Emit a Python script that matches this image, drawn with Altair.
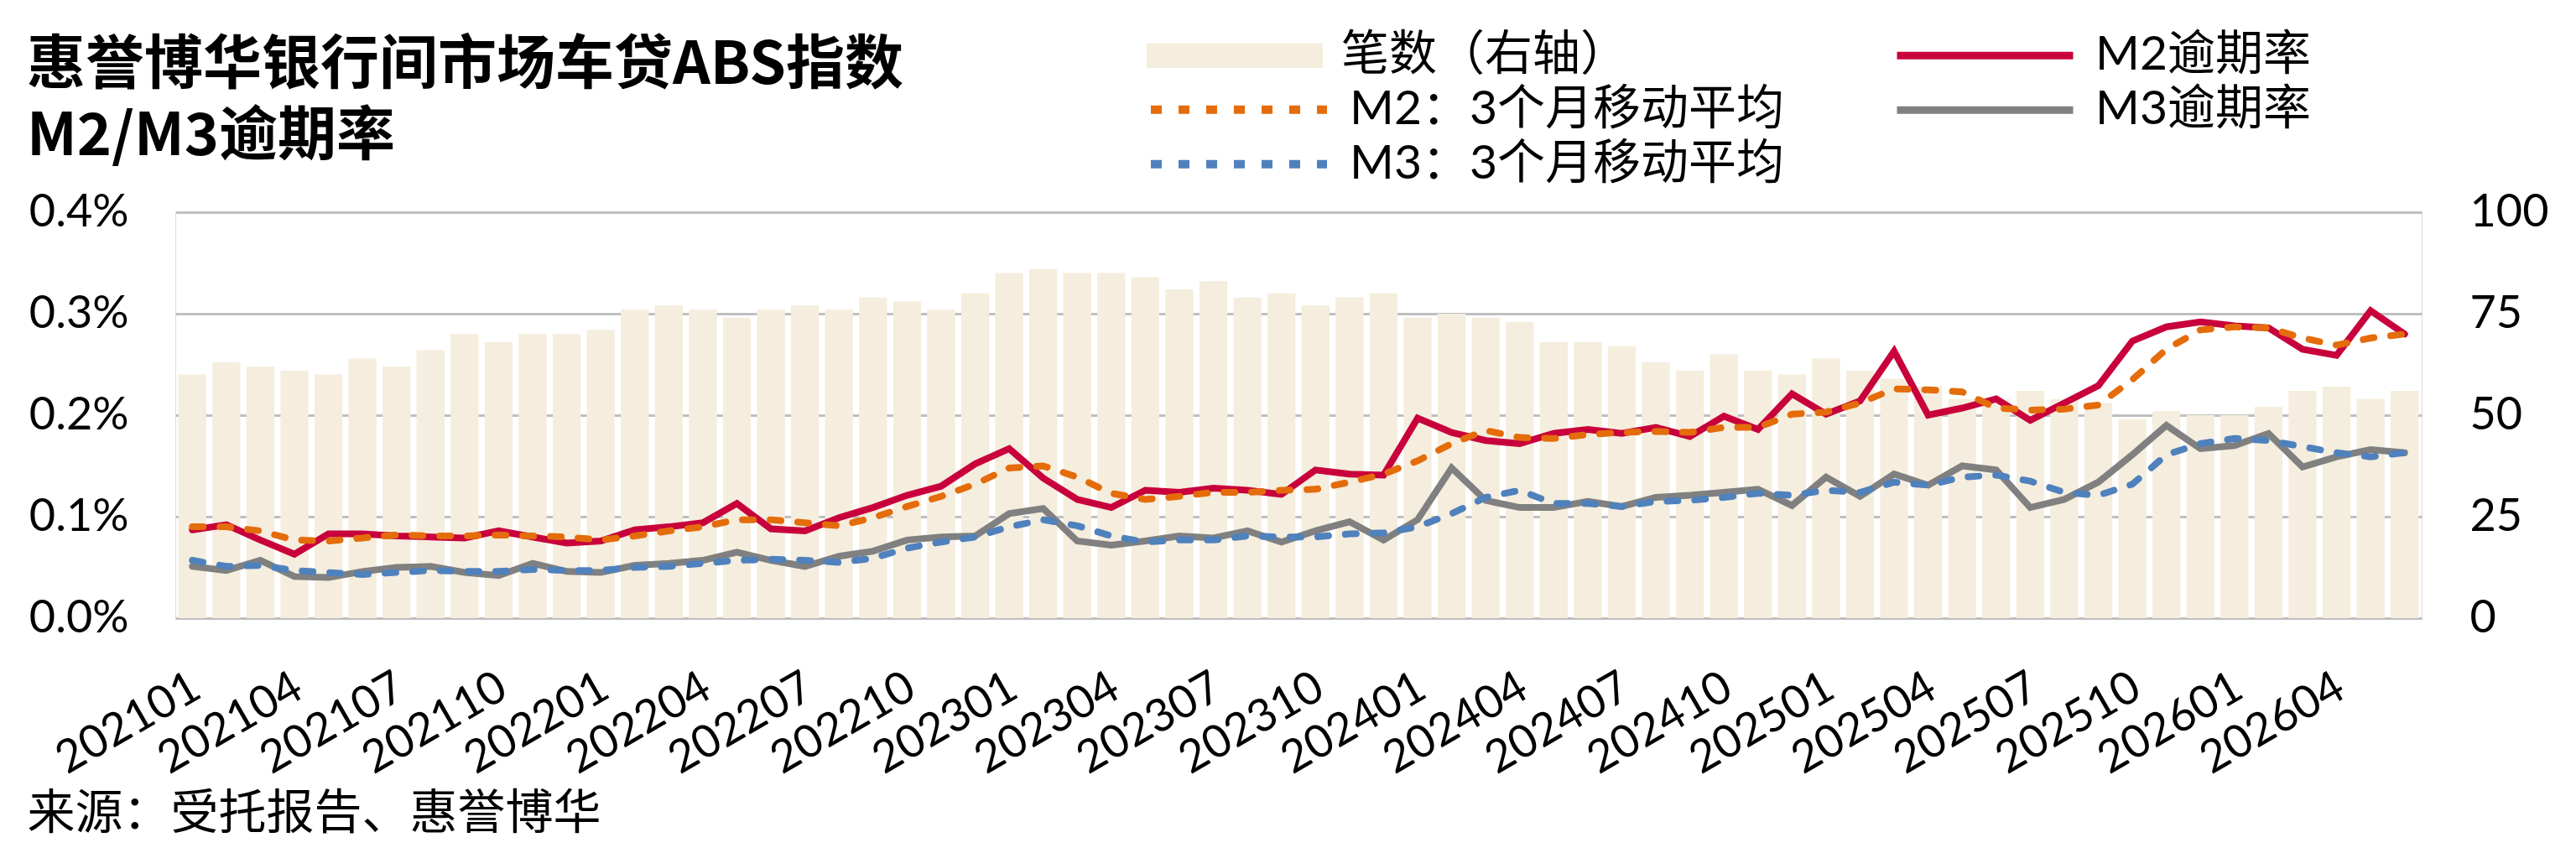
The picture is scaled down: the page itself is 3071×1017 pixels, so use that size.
import altair as alt
import pandas as pd

months = [
    "202101", "202102", "202103", "202104", "202105", "202106", "202107", "202108", "202109", "202110", "202111", "202112",
    "202201", "202202", "202203", "202204", "202205", "202206", "202207", "202208", "202209", "202210", "202211", "202212",
    "202301", "202302", "202303", "202304", "202305", "202306", "202307", "202308", "202309", "202310", "202311", "202312",
    "202401", "202402", "202403", "202404", "202405", "202406", "202407", "202408", "202409", "202410", "202411", "202412",
    "202501", "202502", "202503", "202504", "202505", "202506", "202507", "202508", "202509", "202510", "202511", "202512",
    "202601", "202602", "202603", "202604", "202605", "202606",
]
tick_labels = [
    "202101", "202104", "202107", "202110", "202201", "202204", "202207", "202210",
    "202301", "202304", "202307", "202310", "202401", "202404", "202407", "202410",
    "202501", "202504", "202507", "202510", "202601", "202604",
]

# 笔数（右轴）
counts = [
    60, 63, 62, 61, 60, 64, 62, 66, 70, 68, 70, 70, 71, 76, 77, 76, 74,
    76, 77, 76, 79, 78, 76, 80, 85, 86, 85, 85, 84, 81, 83, 79, 80,
    77, 79, 80, 74, 75, 74, 73, 68, 68, 67, 63, 61, 65, 61, 60, 64, 61,
    59, 57, 54, 54, 56, 54, 53, 49, 51, 50, 50, 52, 56, 57, 54, 56,
]
# M2逾期率 (%)
m2 = [
    0.087, 0.092, 0.077, 0.063, 0.083, 0.083, 0.081, 0.080, 0.079, 0.086, 0.080, 0.074, 0.076, 0.087, 0.090, 0.094, 0.113,
    0.088, 0.086, 0.099, 0.109, 0.121, 0.130, 0.152, 0.167, 0.138, 0.117, 0.109, 0.126, 0.124, 0.128, 0.126, 0.122,
    0.146, 0.142, 0.141, 0.197, 0.183, 0.175, 0.172, 0.182, 0.186, 0.182, 0.188, 0.179, 0.199, 0.186, 0.221, 0.201, 0.214,
    0.263, 0.200, 0.207, 0.216, 0.195, 0.212, 0.229, 0.273, 0.287, 0.292, 0.288, 0.286, 0.265, 0.259, 0.303, 0.280,
]
# M2：3个月移动平均 (%)
m2_ma = [
    0.090, 0.090, 0.086, 0.077, 0.076, 0.079, 0.082, 0.081, 0.081, 0.082, 0.081, 0.080, 0.077, 0.081, 0.086, 0.090, 0.097,
    0.097, 0.094, 0.091, 0.099, 0.110, 0.120, 0.132, 0.148, 0.150, 0.139, 0.123, 0.117, 0.120, 0.124, 0.124, 0.126,
    0.127, 0.134, 0.142, 0.155, 0.172, 0.185, 0.178, 0.177, 0.181, 0.183, 0.184, 0.183, 0.188, 0.188, 0.201, 0.203, 0.212,
    0.226, 0.225, 0.223, 0.207, 0.205, 0.206, 0.210, 0.235, 0.265, 0.284, 0.287, 0.286, 0.276, 0.269, 0.276, 0.280,
]
# M3逾期率 (%)
m3 = [
    0.051, 0.047, 0.057, 0.041, 0.040, 0.046, 0.050, 0.051, 0.045, 0.042, 0.054, 0.046, 0.045, 0.052, 0.054, 0.057, 0.065,
    0.057, 0.051, 0.061, 0.066, 0.077, 0.080, 0.081, 0.103, 0.108, 0.076, 0.072, 0.076, 0.081, 0.079, 0.086, 0.075,
    0.086, 0.095, 0.077, 0.097, 0.148, 0.116, 0.109, 0.109, 0.115, 0.110, 0.119, 0.121, 0.124, 0.127, 0.111, 0.139, 0.120,
    0.142, 0.131, 0.150, 0.146, 0.109, 0.117, 0.134, 0.161, 0.190, 0.167, 0.170, 0.182, 0.149, 0.159, 0.166, 0.163,
]
# M3：3个月移动平均 (%)
m3_ma = [
    0.057, 0.051, 0.052, 0.047, 0.045, 0.043, 0.045, 0.047, 0.046, 0.046, 0.048, 0.047, 0.047, 0.050, 0.051, 0.054, 0.057,
    0.058, 0.057, 0.055, 0.059, 0.069, 0.075, 0.080, 0.090, 0.097, 0.091, 0.081, 0.075, 0.077, 0.077, 0.081, 0.080,
    0.080, 0.083, 0.084, 0.090, 0.103, 0.119, 0.126, 0.113, 0.113, 0.110, 0.115, 0.116, 0.119, 0.123, 0.121, 0.126, 0.124,
    0.134, 0.131, 0.139, 0.141, 0.135, 0.124, 0.121, 0.132, 0.161, 0.172, 0.177, 0.175, 0.169, 0.163, 0.159, 0.163,
]

S_BAR = "笔数（右轴）"
S_M2 = "M2逾期率"
S_M2MA = "M2：3个月移动平均"
S_M3 = "M3逾期率"
S_M3MA = "M3：3个月移动平均"
TITLE = "惠誉博华银行间市场车贷ABS指数"
SUBTITLE = "M2/M3逾期率"
SOURCE = "来源：受托报告、惠誉博华"

C_BAR = "#F5EDDD"
C_M2 = "#C8003C"
C_M2MA = "#E46C0A"
C_M3 = "#808080"
C_M3MA = "#4F81BD"
C_GRID = "#BFBFBF"

FONT = "Lato, 'Noto Sans CJK SC', sans-serif"
CJK = "'Noto Sans CJK SC', Lato, sans-serif"

bar_df = pd.DataFrame({"month": months, "count": counts, "series": S_BAR})
solid_df = pd.concat(
    [pd.DataFrame({"month": months, "value": v, "series": n}) for n, v in [(S_M2, m2), (S_M3, m3)]],
    ignore_index=True,
)
ma_df = pd.concat(
    [pd.DataFrame({"month": months, "value": v, "series": n}) for n, v in [(S_M2MA, m2_ma), (S_M3MA, m3_ma)]],
    ignore_index=True,
)

x_scale = alt.Scale(paddingInner=0.18, paddingOuter=0.09)
x_axis = alt.Axis(
    values=tick_labels, labelAngle=-30, labelAlign="right", labelBaseline="top",
    labelPadding=55, labelOffset=-8, labelFontSize=54, labelFont=FONT, labelColor="black",
    labelLimit=1000, ticks=False, domain=False, labelOverlap=False, grid=False,
    title=SOURCE, titleX=-177, titleY=250, titleAlign="left", titleAnchor="start",
    titleBaseline="alphabetic", titleFontSize=57, titleFontWeight="normal",
    titleFont=CJK, titleColor="black", titleLimit=2000,
)
y_left_axis = alt.Axis(
    orient="left", values=[0, 0.1, 0.2, 0.3, 0.4], grid=True, gridColor=C_GRID,
    gridWidth=3, ticks=False, domain=False,
    labelExpr="format(datum.value, '.1f') + '%'", labelPadding=56,
    labelFontSize=54, labelFont=FONT, labelColor="black", title=None,
)
y_left_scale = alt.Scale(domain=[0, 0.4])

LEG_COMMON = dict(
    title=None, orient="none", rowPadding=0, clipHeight=64.5, symbolSize=44100,
    labelFontSize=57, labelFont=FONT, labelColor="black", labelLimit=2000,
    labelOffset=22, padding=0,
)

bars = alt.Chart(bar_df).mark_bar().encode(
    x=alt.X("month:O", sort=months, scale=x_scale, axis=x_axis),
    y=alt.Y(
        "count:Q", scale=alt.Scale(domain=[0, 100]),
        axis=alt.Axis(
            orient="right", values=[0, 25, 50, 75, 100], grid=False, ticks=False,
            domain=False, labelPadding=57, labelFontSize=54, labelFont=FONT,
            labelColor="black", title=None,
        ),
    ),
    fill=alt.Fill(
        "series:N", scale=alt.Scale(domain=[S_BAR], range=[C_BAR]),
        legend=alt.Legend(
            legendX=1158, legendY=-219, symbolStrokeWidth=0,
            symbolType="M-1,-0.14L1,-0.14L1,0.14L-1,0.14Z", **LEG_COMMON,
        ),
    ),
)

solid = alt.Chart(solid_df).mark_line(strokeWidth=8, strokeCap="round").encode(
    x=alt.X("month:O", sort=months, scale=x_scale, axis=x_axis),
    y=alt.Y("value:Q", scale=y_left_scale, axis=y_left_axis),
    stroke=alt.Stroke(
        "series:N", scale=alt.Scale(domain=[S_M2, S_M3], range=[C_M2, C_M3]),
        legend=alt.Legend(
            legendX=2048, legendY=-219, symbolType="stroke", symbolStrokeWidth=9, **LEG_COMMON
        ),
    ),
)

ma = alt.Chart(ma_df).mark_line(strokeWidth=8, strokeCap="round").encode(
    x=alt.X("month:O", sort=months, scale=x_scale, axis=x_axis),
    y=alt.Y("value:Q", scale=y_left_scale, axis=y_left_axis),
    color=alt.Color(
        "series:N", scale=alt.Scale(domain=[S_M2MA, S_M3MA], range=[C_M2MA, C_M3MA]),
        legend=alt.Legend(
            legendX=1158, legendY=-154.5, symbolType="stroke", symbolStrokeWidth=10,
            symbolDash=[22, 10], **LEG_COMMON
        ),
    ),
    strokeDash=alt.StrokeDash(
        "series:N", scale=alt.Scale(domain=[S_M2MA, S_M3MA], range=[[13, 20], [13, 20]]),
        legend=None,
    ),
)

chart = (
    alt.layer(bars, alt.layer(solid, ma))
    .resolve_scale(y="independent")
    .properties(
        width=2678,
        height=484,
        title=alt.TitleParams(
            text=TITLE, subtitle=SUBTITLE, anchor="start", frame="group",
            fontSize=70, fontWeight="bold", font=CJK, color="black",
            subtitleFontSize=70, subtitleFontWeight="bold", subtitleFont=CJK,
            subtitleColor="black", subtitlePadding=15,
            dx=-177, dy=166, offset=0,
        ),
        autosize=alt.AutoSizeParams(type="none"),
        padding={"left": 201, "top": 245, "right": 176, "bottom": 270},
    )
    .configure_view(stroke=C_GRID, strokeWidth=3)
    .configure(background="white")
)

chart.save("out.html", embed_options={"renderer": "svg", "actions": False})
